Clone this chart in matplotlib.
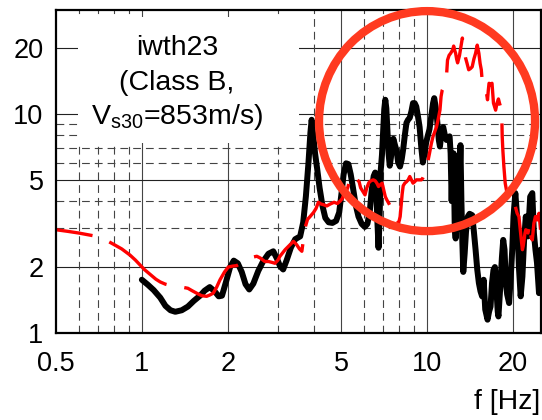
import matplotlib
matplotlib.use("Agg")
import matplotlib.pyplot as plt
from matplotlib.patches import Ellipse, Rectangle
from matplotlib.ticker import FixedLocator, NullLocator

plt.rcParams['font.family'] = ['Liberation Sans', 'DejaVu Sans']
plt.rcParams['mathtext.default'] = 'regular'

# observed H/V-type spectral ratio (black)
obs_f = [1.0, 1.05, 1.10, 1.16, 1.21, 1.26, 1.31, 1.38, 1.45, 1.52, 1.60, 1.66,
         1.73, 1.80, 1.86, 1.91, 1.97, 2.04, 2.10, 2.17, 2.24, 2.31, 2.38, 2.46,
         2.56, 2.66, 2.78, 2.89, 2.98, 3.05, 3.13, 3.22, 3.33, 3.45, 3.59, 3.68,
         3.76, 3.84, 3.90, 3.94, 3.99, 4.05, 4.12, 4.20, 4.30, 4.40, 4.52, 4.66,
         4.80, 4.92, 5.02, 5.10, 5.20, 5.30, 5.40, 5.50, 5.62, 5.75, 5.90, 6.05,
         6.18, 6.30, 6.40, 6.50, 6.58, 6.64, 6.70, 6.76, 6.82, 6.88, 6.95, 7.02,
         7.08, 7.14, 7.20, 7.27, 7.33, 7.40, 7.47, 7.53, 7.62, 7.72, 7.82, 7.92,
         8.04, 8.15, 8.25, 8.36, 8.47, 8.58, 8.70, 8.82, 8.93, 9.05, 9.17, 9.30,
         9.42, 9.55, 9.67, 9.80, 9.93, 10.05, 10.2, 10.35, 10.5, 10.6, 10.7, 10.8,
         10.9, 11.0, 11.1, 11.2, 11.3, 11.4, 11.55, 11.7, 11.85, 12.0, 12.1, 12.2,
         12.3, 12.4, 12.5, 12.6, 12.7, 12.8, 12.9, 13.0, 13.1, 13.2, 13.3, 13.4,
         13.55, 13.7, 13.9, 14.1, 14.4, 14.6, 14.8, 15.0, 15.2, 15.4, 15.6, 15.8,
         16.0, 16.3, 16.5, 16.7, 16.9, 17.1, 17.3, 17.5, 17.7, 17.8, 18.1, 18.3,
         18.5, 18.7, 18.9, 19.1, 19.4, 19.6, 19.9, 20.1, 20.4, 20.7, 21.0, 21.3,
         21.6, 21.9, 22.2, 22.6, 23.0, 23.4, 23.7, 24.0, 24.3, 24.7, 25.0]
obs_amp = [1.75, 1.66, 1.57, 1.45, 1.33, 1.27, 1.25, 1.27, 1.32, 1.40, 1.48, 1.56,
           1.62, 1.55, 1.47, 1.48, 1.70, 2.0, 2.14, 2.08, 1.90, 1.67, 1.58, 1.68,
           1.92, 2.12, 2.30, 2.36, 2.18, 2.02, 1.95, 2.15, 2.45, 2.68, 2.76, 3.2,
           4.2, 6.0, 8.2, 9.4, 8.0, 6.6, 5.6, 4.6, 3.8, 3.35, 3.2, 3.18,
           3.25, 3.55, 4.4, 5.3, 5.95, 5.9, 5.3, 4.6, 3.85, 3.4, 3.15, 3.05,
           3.15, 3.6, 4.5, 5.2, 5.4, 4.5, 3.2, 2.45, 3.4, 5.5, 6.5, 8.5,
           10.5, 11.6, 10.6, 8.2, 6.6, 5.8, 6.3, 7.1, 7.7, 7.2, 6.8, 6.0,
           5.75, 6.2, 6.9, 8.0, 9.1, 9.4, 9.6, 10.3, 11.2, 11.2, 10.8, 9.7,
           8.7, 7.0, 6.0, 6.6, 7.4, 7.9, 8.5, 9.8, 11.2, 11.8, 10.9, 10.1,
           8.8, 7.6, 7.1, 7.9, 8.5, 8.7, 8.0, 7.6, 7.8, 7.9, 6.6, 4.0,
           6.5, 6.6, 3.2, 2.7, 6.4, 5.5, 3.0, 5.0, 7.2, 4.0, 2.6, 1.9,
           2.3, 2.9, 3.4, 3.5, 3.45, 2.9, 2.4, 1.95, 1.69, 1.55, 1.47, 1.75,
           1.28, 1.15, 1.25, 1.32, 1.69, 1.94, 2.0, 1.6, 1.25, 1.19, 1.69, 2.2,
           2.66, 2.40, 1.69, 1.5, 1.37, 1.69, 2.40, 3.40, 4.35, 3.40, 2.0, 1.47,
           1.81, 2.66, 3.40, 2.76, 4.19, 4.35, 2.86, 2.4, 2.09, 1.52, 2.40]

# model amplification (red)
mod_f = [0.5, 0.55, 0.6, 0.675, 0.73, 0.783, 0.85, 0.908, 0.95, 0.984, 1.02, 1.07,
         1.12, 1.16, 1.21, 1.254, 1.30, 1.38, 1.45, 1.50, 1.556, 1.62, 1.687, 1.73,
         1.78, 1.83, 1.88, 1.95, 2.01, 2.08, 2.15, 2.25, 2.35, 2.45, 2.53, 2.60,
         2.70, 2.78, 2.86, 2.93, 3.0, 3.05, 3.18, 3.31, 3.40, 3.49, 3.57, 3.64,
         3.69, 3.73, 3.81, 3.89, 4.0, 4.08, 4.16, 4.25, 4.34, 4.45, 4.58, 4.72,
         4.85, 4.96, 5.04, 5.11, 5.18, 5.27, 5.36, 5.45, 5.55, 5.62, 5.70, 5.78,
         5.85, 5.91, 6.0, 6.06, 6.15, 6.25, 6.35, 6.48, 6.58, 6.67, 6.76, 6.86,
         6.96, 7.05, 7.14, 7.23, 7.35, 7.5, 7.62, 7.78, 7.95, 8.05, 8.18, 8.25,
         8.36, 8.47, 8.59, 8.70, 8.82, 8.93, 9.05, 9.17, 9.35, 9.55, 9.67, 9.80,
         9.93, 10.05, 10.2, 10.35, 10.5, 10.65, 10.8, 10.95, 11.1, 11.2, 11.3, 11.4,
         11.5, 11.6, 11.7, 11.8, 11.95, 12.1, 12.3, 12.4, 12.5, 12.6, 12.7, 12.8,
         13.0, 13.2, 13.3, 13.4, 13.5, 13.65, 13.8, 14.0, 14.2, 14.4, 14.6, 14.8,
         15.0, 15.2, 15.35, 15.5, 15.6, 15.8, 16.0, 16.15, 16.3, 16.4, 16.5, 16.7,
         16.9, 17.0, 17.1, 17.25, 17.4, 17.6, 17.8, 17.95, 18.1, 18.2, 18.3, 18.35,
         18.45, 18.6, 18.8, 19.1, 19.4, 19.6, 19.85, 20.1, 20.4, 20.7, 21.0, 21.15,
         21.3, 21.45, 21.6, 21.75, 21.9, 22.05, 22.2, 22.4, 22.6, 22.75, 22.9, 23.0,
         23.2, 23.4, 23.55, 23.7, 24.0, 24.3, 24.7, 25.0]
mod_amp = [2.96, 2.91, 2.86, 2.78, 2.70, 2.57, 2.42, 2.27, 2.15, 2.05, 1.95, 1.85,
           1.76, 1.71, 1.67, 1.65, 1.64, 1.62, 1.60, 1.56, 1.52, 1.48, 1.47, 1.49,
           1.52, 1.62, 1.75, 1.90, 2.0, 2.02, 2.03, 2.1, 2.18, 2.22, 2.24, 2.2,
           2.12, 2.12, 2.1, 2.08, 2.15, 2.24, 2.40, 2.53, 2.62, 2.53, 2.42, 2.36,
           2.7, 3.0, 3.3, 3.4, 3.55, 3.7, 3.95, 3.88, 3.85, 3.8, 3.88, 3.95,
           3.9, 4.0, 4.1, 4.3, 4.35, 4.6, 5.0, 5.1, 5.3, 5.2, 5.0, 4.9,
           4.6, 4.5, 4.35, 4.27, 4.6, 4.85, 4.95, 5.0, 4.95, 4.83, 4.66, 4.75,
           4.83, 4.5, 4.19, 4.05, 3.9, 3.7, 3.55, 3.35, 3.17, 3.4, 4.3, 4.7,
           4.83, 4.9, 5.0, 5.18, 5.0, 4.83, 4.9, 5.0, 5.0, 5.0, 5.1, 5.3,
           5.7, 6.0, 6.6, 7.3, 7.9, 8.3, 8.75, 9.5, 10.4, 12.0, 12.8, 13.1,
           13.8, 14.3, 14.8, 17.6, 18.5, 18.9, 19.6, 20.4, 19.5, 18.9, 17.8, 17.1,
           18.5, 20.9, 22.2, 21.0, 19.6, 18.0, 17.1, 15.9, 16.1, 16.4, 17.8, 18.9,
           20.6, 18.9, 17.0, 15.9, 14.3, 13.8, 13.3, 12.5, 11.6, 12.8, 13.8, 13.6,
           13.8, 12.5, 11.2, 10.8, 10.4, 11.2, 11.7, 11.2, 10.8, 10.0, 9.39, 7.9,
           6.8, 5.75, 4.83, 4.3, 4.05, 3.78, 3.75, 3.72, 3.78, 3.52, 3.40, 3.1,
           2.86, 2.6, 2.40, 2.5, 2.66, 2.85, 2.96, 2.9, 2.86, 3.0, 3.17, 2.9,
           2.72, 2.66, 2.9, 3.17, 3.40, 3.28, 3.52, 2.96]

x_ticks = [0.5, 1, 2, 5, 10, 20]
x_tick_labels = ['0.5', '1', '2', '5', '10', '20']
y_ticks = [1, 2, 5, 10, 20]
y_tick_labels = ['1', '2', '5', '10', '20']
x_major_grid = [1, 2, 5, 10, 20]
x_minor_grid = [0.6, 0.7, 0.8, 0.9, 3, 4, 6, 7, 8, 9]
y_major_grid = [2, 5, 10, 20]
y_minor_grid = [3, 4, 6, 7, 8, 9]

fig = plt.figure(figsize=(5.42, 4.2), dpi=100)
ax = fig.add_axes([56 / 542, 87 / 420, 485 / 542, 323 / 420])
ax.set_xscale('log')
ax.set_yscale('log')
ax.set_xlim(0.5, 25.1)
ax.set_ylim(1, 29.8)

# grid drawn by hand: solid at majors, dashed at selected minors
for v in x_major_grid:
    ax.axvline(v, color='#444444', lw=0.8, zorder=0.5)
for v in y_major_grid:
    ax.axhline(v, color='#222222', lw=0.8, zorder=0.5)
grid_dash = (0, (7, 4.5))
for v in x_minor_grid:
    ax.axvline(v, color='#444444', lw=0.8, ls=grid_dash, zorder=0.5)
for v in y_minor_grid:
    ax.axhline(v, color='#444444', lw=0.8, ls=grid_dash, zorder=0.5)

# white panel behind the site label
ax.add_patch(Rectangle((22 / 485, 190 / 323), 221 / 485, 126 / 323,
                       transform=ax.transAxes, facecolor='white',
                       edgecolor='none', zorder=1))

ax.plot(obs_f, obs_amp, color='black', lw=4.3, solid_joinstyle='round',
        solid_capstyle='round', zorder=3)
ax.plot(mod_f, mod_amp, color='#ff0000', lw=2.4, ls=(10.5, (21.6, 5.4)),
        dash_capstyle='butt', zorder=4)

label_x = 0.249
ax.text(label_x, 0.861, 'iwth23', transform=ax.transAxes, ha='center',
        va='baseline', fontsize=20.5, zorder=2)
ax.text(label_x, 0.752, '(Class B,', transform=ax.transAxes, ha='center',
        va='baseline', fontsize=20.5, zorder=2)
ax.text(label_x, 0.647, r'V$_{s30}$=853m/s)', transform=ax.transAxes,
        ha='center', va='baseline', fontsize=20.5, zorder=2)

ax.add_patch(Ellipse((0.765, 0.656), 216 / 485, 220 / 323,
                     transform=ax.transAxes, fill=False, edgecolor='#ff3a20',
                     lw=6, clip_on=False, zorder=6))

ax.xaxis.set_major_locator(FixedLocator(x_ticks))
ax.yaxis.set_major_locator(FixedLocator(y_ticks))
ax.xaxis.set_minor_locator(NullLocator())
ax.yaxis.set_minor_locator(NullLocator())
ax.set_xticklabels(x_tick_labels)
ax.set_yticklabels(y_tick_labels)
ax.tick_params(axis='both', which='major', length=0, labelsize=19.5)
ax.tick_params(axis='x', pad=13)
ax.tick_params(axis='y', pad=9)

for sp in ax.spines.values():
    sp.set_linewidth(1.6)
    sp.set_color('black')
    sp.set_zorder(5)

fig.text(540 / 542, 1 - 402 / 420, 'f [Hz]', ha='right', va='center',
         fontsize=20.5)

fig.savefig('out.png', dpi=100)
